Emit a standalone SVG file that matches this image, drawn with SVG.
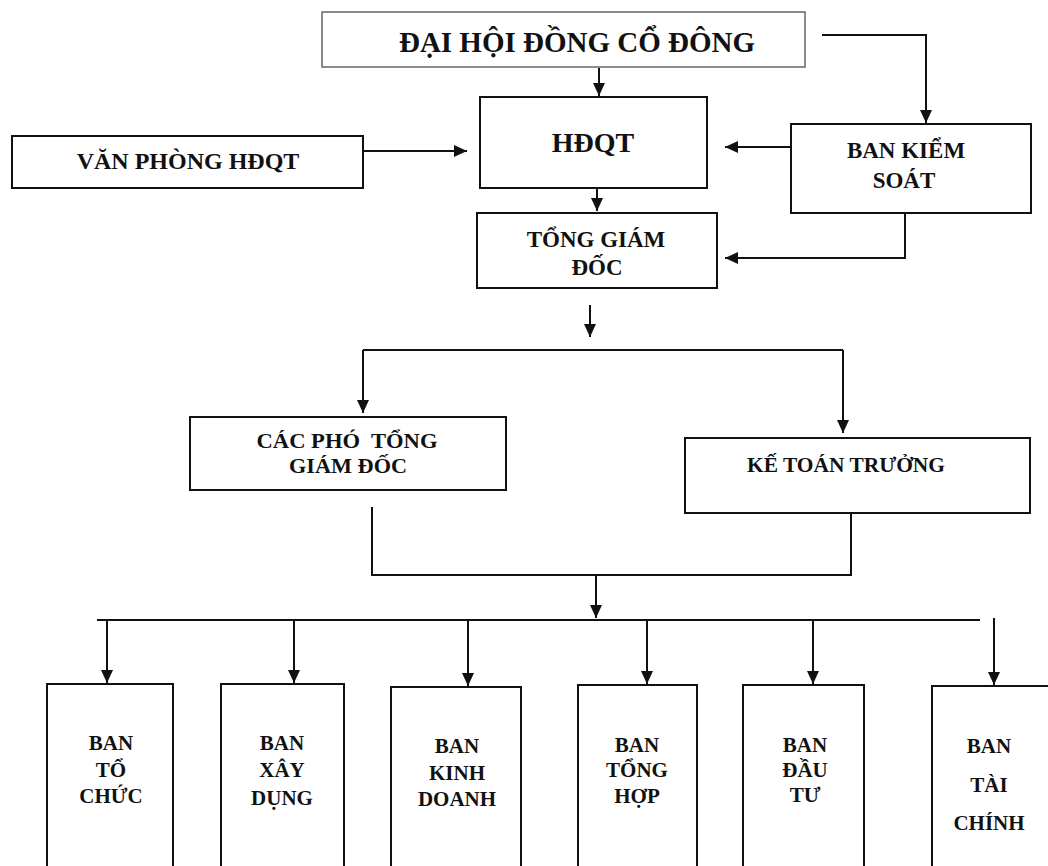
<svg xmlns="http://www.w3.org/2000/svg" width="1048" height="866" viewBox="0 0 1048 866">
<style>
.box{fill:#fff;stroke:#111;stroke-width:2}
.top{fill:#fff;stroke:#666;stroke-width:1.5}
.t{font-family:"Liberation Serif","Times New Roman",serif;font-weight:bold;fill:#111;text-anchor:middle}
.c{fill:none;stroke:#111;stroke-width:2}
</style>
<defs>
<marker id="ah" markerUnits="userSpaceOnUse" markerWidth="14" markerHeight="14" refX="13" refY="6" orient="auto">
<path d="M0,0 L13,6 L0,12 z" fill="#111"/>
</marker>
</defs>
<rect width="1048" height="866" fill="#fff"/>
<g id="connectors">
<path class="c" d="M599,68 V96" marker-end="url(#ah)"/>
<path class="c" d="M822,35 H926 V123" marker-end="url(#ah)"/>
<path class="c" d="M333,151 H467" marker-end="url(#ah)"/>
<path class="c" d="M791,147 H725" marker-end="url(#ah)"/>
<path class="c" d="M597,189 V211" marker-end="url(#ah)"/>
<path class="c" d="M905,213 V258 H725" marker-end="url(#ah)"/>
<path class="c" d="M590,305 V337" marker-end="url(#ah)"/>
<path class="c" d="M363,350 H843"/>
<path class="c" d="M363,350 V413" marker-end="url(#ah)"/>
<path class="c" d="M843,350 V433" marker-end="url(#ah)"/>
<path class="c" d="M372,507 V575 H851 V513"/>
<path class="c" d="M596,575 V618" marker-end="url(#ah)"/>
<path class="c" d="M97,620 H980"/>
<path class="c" d="M107,620 V683" marker-end="url(#ah)"/>
<path class="c" d="M294,620 V683" marker-end="url(#ah)"/>
<path class="c" d="M468,620 V686" marker-end="url(#ah)"/>
<path class="c" d="M647,620 V684" marker-end="url(#ah)"/>
<path class="c" d="M813,620 V684" marker-end="url(#ah)"/>
<path class="c" d="M994,618 V685" marker-end="url(#ah)"/>
</g>
<g id="dhdcd">
<rect class="top" x="322" y="12" width="483" height="55"/>
<text class="t" x="577" y="52" font-size="29">ĐẠI HỘI ĐỒNG CỔ ĐÔNG</text>
</g>
<g id="hdqt">
<rect class="box" x="480" y="97" width="227" height="91"/>
<text class="t" x="593" y="152" font-size="28">HĐQT</text>
</g>
<g id="vanphong">
<rect class="box" x="12" y="136" width="351" height="52"/>
<text class="t" x="188" y="169" font-size="24">VĂN PHÒNG HĐQT</text>
</g>
<g id="bankiemsoat">
<rect class="box" x="791" y="124" width="240" height="89"/>
<text class="t" x="906" y="158" font-size="23">BAN KIỂM</text>
<text class="t" x="904" y="188" font-size="23">SOÁT</text>
</g>
<g id="tgd">
<rect class="box" x="477" y="213" width="240" height="75"/>
<text class="t" x="596" y="247" font-size="23">TỔNG GIÁM</text>
<text class="t" x="597" y="275" font-size="23">ĐỐC</text>
</g>
<g id="caphotgd">
<rect class="box" x="190" y="417" width="316" height="73"/>
<text class="t" x="347" y="448" font-size="22" textLength="181" lengthAdjust="spacingAndGlyphs" style="white-space:pre">CÁC PHÓ  TỔNG</text>
<text class="t" x="348" y="473" font-size="22" textLength="118" lengthAdjust="spacingAndGlyphs">GIÁM ĐỐC</text>
</g>
<g id="ketoan">
<rect class="box" x="685" y="438" width="345" height="75"/>
<text class="t" x="846" y="472" font-size="22" textLength="198" lengthAdjust="spacingAndGlyphs">KẾ TOÁN TRƯỞNG</text>
</g>
<g id="bantochuc">
<rect class="box" x="47" y="684" width="126" height="200"/>
<text class="t" x="111" y="750" font-size="21">BAN</text>
<text class="t" x="111" y="777" font-size="21">TỔ</text>
<text class="t" x="111" y="803" font-size="21">CHỨC</text>
</g>
<g id="banxaydung">
<rect class="box" x="221" y="684" width="123" height="200"/>
<text class="t" x="282" y="750" font-size="21">BAN</text>
<text class="t" x="282" y="777" font-size="21">XÂY</text>
<text class="t" x="282" y="805" font-size="21">DỤNG</text>
</g>
<g id="bankinhdoanh">
<rect class="box" x="391" y="687" width="130" height="200"/>
<text class="t" x="457" y="753" font-size="21">BAN</text>
<text class="t" x="457" y="780" font-size="21">KINH</text>
<text class="t" x="457" y="806" font-size="21">DOANH</text>
</g>
<g id="bantonghop">
<rect class="box" x="578" y="685" width="119" height="200"/>
<text class="t" x="637" y="752" font-size="21">BAN</text>
<text class="t" x="637" y="777" font-size="21">TỔNG</text>
<text class="t" x="637" y="803" font-size="21">HỢP</text>
</g>
<g id="bandautu">
<rect class="box" x="743" y="685" width="121" height="200"/>
<text class="t" x="805" y="752" font-size="21">BAN</text>
<text class="t" x="805" y="777" font-size="21">ĐẦU</text>
<text class="t" x="805" y="802" font-size="21">TƯ</text>
</g>
<g id="bantaichinh">
<rect class="box" x="932" y="686" width="130" height="200"/>
<text class="t" x="989" y="753" font-size="21">BAN</text>
<text class="t" x="989" y="792" font-size="21">TÀI</text>
<text class="t" x="989" y="830" font-size="21">CHÍNH</text>
</g>
</svg>
